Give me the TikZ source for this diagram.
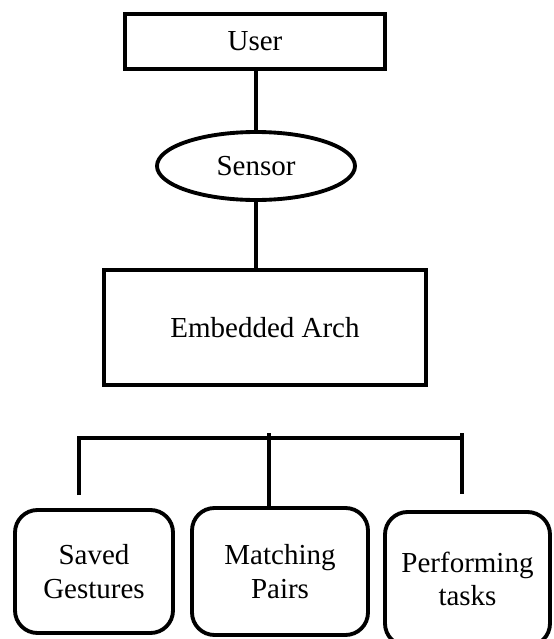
\documentclass[tikz,border=0pt]{standalone}
\usepackage{fontspec}
\setmainfont{Liberation Serif}
\usetikzlibrary{shapes.geometric,positioning,calc}

\begin{document}
\begin{tikzpicture}[
  x=1cm,y=1cm,
  line/.style={draw=black,line width=2.2pt},
  barline/.style={draw=black,line width=2.8pt},
  plainbox/.style={rectangle,draw=black,line width=2.2pt,inner sep=0pt,fill=white,
    font=\fontsize{16.5}{19}\selectfont,align=center},
  oval/.style={ellipse,draw=black,line width=2.2pt,inner sep=0pt,fill=white,
    font=\fontsize{16.5}{19}\selectfont},
  roundbox/.style={rectangle,rounded corners=0.45cm,draw=black,line width=2.2pt,
    inner sep=0pt,fill=white,font=\fontsize{16.5}{19}\selectfont,align=center}
]

% ---------------- page frame ----------------
\useasboundingbox (0,0) rectangle (11.08,-12.78);

% ---------------- geometry ----------------
\def\yBar{-8.76}
\def\xBarL{1.58}
\def\xBarM{5.38}
\def\xBarR{9.24}

% ---------------- top chain ----------------
\node[plainbox,minimum width=5.21cm,minimum height=1.11cm] (user) at (5.10,-0.83) {User};
\node[oval,minimum width=3.96cm,minimum height=1.36cm] (sensor) at (5.12,-3.32) {Sensor};
\node[plainbox,minimum width=6.44cm,minimum height=2.30cm] (arch) at (5.30,-6.55) {Embedded Arch};

\draw[line] (sensor.north |- user.south) -- (sensor.north);
\draw[line] (sensor.south) -- (sensor.south |- arch.north);

% ---------------- branch boxes ----------------
\node[roundbox,minimum width=3.16cm,minimum height=2.46cm] (saved) at (1.88,-11.43) {Saved\\Gestures};
\node[roundbox,minimum width=3.52cm,minimum height=2.54cm] (match) at (5.60,-11.43) {Matching\\Pairs};
\node[roundbox,minimum width=3.30cm,minimum height=2.68cm] (perform) at (9.35,-11.58) {Performing\\tasks};

% ---------------- branch bar ----------------
\coordinate (barL) at (\xBarL,\yBar);
\coordinate (barM) at (\xBarM,\yBar);
\coordinate (barR) at (\xBarR,\yBar);
\coordinate (barEnd) at (\xBarR+0.04,\yBar);
\coordinate (leftEnd) at (\xBarL,-9.90);
\coordinate (rightEnd) at (\xBarR,-9.88);

\draw[barline] (leftEnd) -- (barL) -- (barEnd);
\draw[line] ($(barM)+(0,0.10)$) -- (barM |- match.north);
\draw[line] ($(barR)+(0,0.10)$) -- (rightEnd);

\end{tikzpicture}
\end{document}
